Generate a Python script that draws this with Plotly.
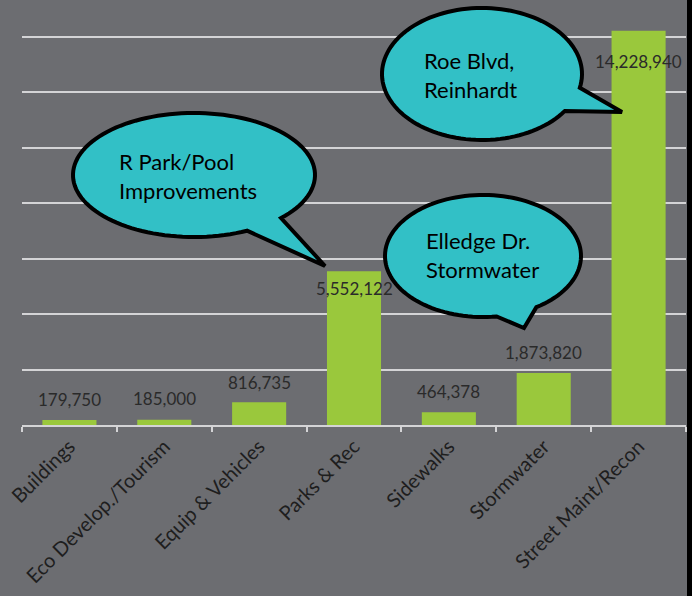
import numpy as np
import plotly.graph_objects as go

# ---- data ----
categories = ["Buildings", "Eco Develop./Tourism", "Equip & Vehicles", "Parks & Rec",
              "Sidewalks", "Stormwater", "Street Maint/Recon"]
amounts = [179750, 185000, 816735, 5552122, 464378, 1873820, 14228940]
value_labels = ["179,750", "185,000", "816,735", "5,552,122", "464,378", "1,873,820", "14,228,940"]
bubble_texts = ["R Park/Pool<br>Improvements", "Roe Blvd,<br>Reinhardt", "Elledge Dr.<br>Stormwater"]

# ---- styling ----
BG = "#6c6d71"
BAR = "#9ac83c"
BUBBLE = "#32c0c6"
GRID = "#d4d4d6"
TXT = "#222222"
FONT = "Lato"

W, H = 697, 596
L, R, T, B = 22, 11, 0, 171
PW, PH = W - L - R, H - T - B


def px(x, y):
    return (x - L) / PW, (H - B - y) / PH


fig = go.Figure()
fig.add_trace(go.Bar(x=categories, y=amounts, marker=dict(color=BAR, line=dict(width=0)),
                     hoverinfo="skip"))

label_shift = [21, 21, 20, -17, 21, 21, -31]
for c, v, t, s in zip(categories, amounts, value_labels, label_shift):
    fig.add_annotation(x=c, y=v, text=t, showarrow=False, yshift=s, yanchor="middle",
                       font=dict(family=FONT, size=17, color="#2a2a2a"))


def bubble_path(cx, cy, rx, ry, a1, a2, tip):
    ang = np.radians(np.linspace(a2, a1 + 360, 120))
    pts = [(cx + rx * np.cos(a), cy + ry * np.sin(a)) for a in ang]
    pts.append(tip)
    s = ""
    for i, (x, y) in enumerate(pts):
        xp, yp = px(x, y)
        s += ("M" if i == 0 else "L") + f"{xp:.5f},{yp:.5f} "
    return s + "Z"


bubbles = [
    dict(c=(194, 175), r=(121, 62), a=(44, 64), tip=(325, 266), text_at=(117, 176)),
    dict(c=(482, 74), r=(100, 66), a=(12, 34), tip=(622, 112), text_at=(422, 75)),
    dict(c=(483, 256), r=(98, 61), a=(57, 82), tip=(524, 328), text_at=(424, 255)),
]
for b, txt in zip(bubbles, bubble_texts):
    fig.add_shape(type="path", xref="paper", yref="paper",
                  path=bubble_path(*b["c"], *b["r"], *b["a"], b["tip"]),
                  fillcolor=BUBBLE, line=dict(color="black", width=4), layer="above")
    tx, ty = px(*b["text_at"])
    fig.add_annotation(xref="paper", yref="paper", x=tx, y=ty, text=txt, showarrow=False,
                       xanchor="left", yanchor="middle", align="left",
                       font=dict(family=FONT, size=22, color="black"))

# right border strips
x0, _ = px(687, 0)
x1, _ = px(692, 0)
x2, _ = px(698, 0)
_, ybot = px(0, 600)
_, ytop = px(0, -2)
fig.add_shape(type="rect", xref="paper", yref="paper", x0=x0, x1=x1, y0=ybot, y1=ytop,
              fillcolor="black", line=dict(width=0), layer="above")
fig.add_shape(type="rect", xref="paper", yref="paper", x0=x1, x1=x2, y0=ybot, y1=ytop,
              fillcolor="white", line=dict(width=0), layer="above")

fig.update_layout(
    width=W, height=H,
    margin=dict(l=L, r=R, t=T, b=B),
    paper_bgcolor=BG, plot_bgcolor=BG,
    showlegend=False, bargap=0.43,
    font=dict(family=FONT, color=TXT),
)
fig.update_xaxes(showline=True, linecolor=GRID, linewidth=2, ticks="outside",
                 tickson="boundaries", ticklen=5, tickwidth=2, tickcolor=GRID,
                 tickangle=-45, tickfont=dict(family=FONT, size=20, color="#1e1e1e"),
                 showgrid=False)
fig.update_yaxes(range=[0, 15.335e6], dtick=2e6, showgrid=True, gridcolor=GRID,
                 gridwidth=2, showticklabels=False, zeroline=False, ticks="")

fig.write_html("out.html", config={"displayModeBar": False},
               post_script="document.body.style.margin='0';")
